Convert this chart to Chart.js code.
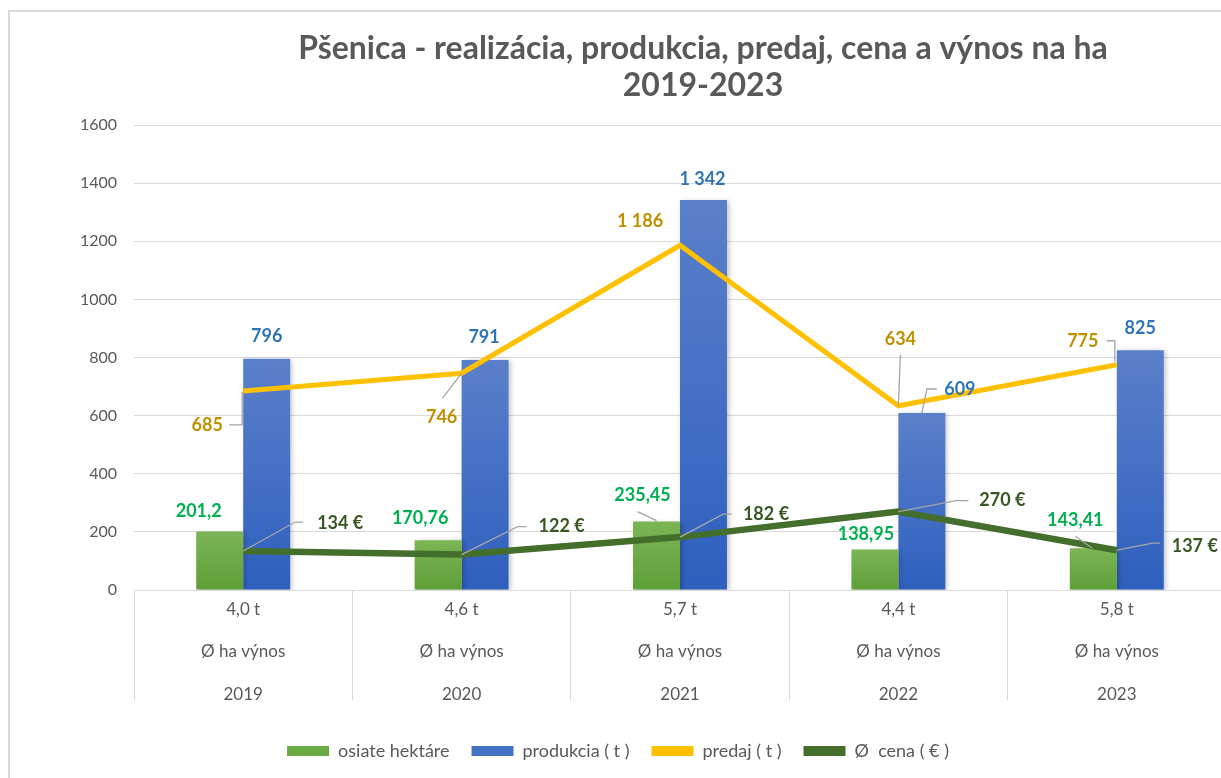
<!DOCTYPE html>
<html>
<head>
<meta charset="utf-8">
<script src="https://cdn.jsdelivr.net/npm/chart.js@4"></script>
<style>
  html, body { margin: 0; padding: 0; background: #fff; overflow: hidden; }
  .box { position: absolute; left: 8px; top: 10px; width: 1235px; height: 778px;
         border-left: 2px solid #d9d9d9; border-top: 2px solid #d9d9d9; }
</style>
</head>
<body>
<div class="box"><canvas id="chart" width="1235" height="778"></canvas></div>
<script>
// data
const years = ['2019', '2020', '2021', '2022', '2023'];
const yieldPerHa = ['4,0 t', '4,6 t', '5,7 t', '4,4 t', '5,8 t'];
const hectares = [201.2, 170.76, 235.45, 138.95, 143.41];
const production = [796, 791, 1342, 609, 825];
const sales = [685, 746, 1186, 634, 775];
const price = [134, 122, 182, 270, 137];
const yTicks = [0, 200, 400, 600, 800, 1000, 1200, 1400, 1600];

// label placement (offset of label centre from bar top / line point) and leader lines
const hectLabelPos = [[-21, -20], [-18, -22], [-14, -26], [-9, -15], [-18, -28]];
const hectLeaders = [null, null, [[0, -1], [-19, -10]], null, [[-1, 0], [-18, -12]]];
const prodLabelPos = [[0, -22], [-1, -23], [-1, -21], [38, -24], [0, -22]];
const prodLeaders = [null, null, null, [[0, 0], [5, -24], [15, -24]], null];
const salesLabelPos = [[-36, 34], [-20, 44], [-40, -24], [2, -67], [-34, -24]];
const salesLeaders = [[[-1, 1], [-1, 34], [-14, 34]], [[0, 0], [-19, 25]], null, [[0, 0], [2, -51]], [[-2, -3], [-2, -24], [-10, -24]]];
const priceLabelPos = [[97, -28], [100, -28], [86, -23], [104, -11], [78, -4]];
const priceLeaders = [[[0, 0], [52, -29], [60, -29]], [[0, 0], [56, -28], [65, -28]], [[0, 0], [43, -23], [52, -23]], [[0, 0], [58, -11], [70, -11]], [[0, 0], [36, -7], [43, -7]]];

const fmtDec = v => String(v).replace('.', ',');
const fmtThousands = v => String(v).replace(/\B(?=(\d{3})+(?!\d))/g, ' ');
const fmtEuro = v => v + ' €';

Chart.defaults.font.family = 'Lato, "Open Sans", sans-serif';
Chart.defaults.color = '#595959';

function barGradient(top, bottom) {
  return (c) => {
    const chart = c.chart;
    if (!chart.chartArea || c.raw === undefined) return bottom;
    const y = chart.scales.y;
    const g = chart.ctx.createLinearGradient(0, y.getPixelForValue(c.raw), 0, y.getPixelForValue(0));
    g.addColorStop(0, top);
    g.addColorStop(1, bottom);
    return g;
  };
}

const labelSetup = [
  { pos: hectLabelPos, leaders: hectLeaders, color: '#00b050', fmt: fmtDec },
  { pos: prodLabelPos, leaders: prodLeaders, color: '#2e75b6', fmt: fmtThousands },
  { pos: salesLabelPos, leaders: salesLeaders, color: '#bf9000', fmt: fmtThousands },
  { pos: priceLabelPos, leaders: priceLeaders, color: '#385723', fmt: fmtEuro }
];

const valueLabels = {
  id: 'valueLabels',
  afterDatasetsDraw(chart) {
    const ctx = chart.ctx;
    ctx.save();
    labelSetup.forEach((s, di) => {
      const meta = chart.getDatasetMeta(di);
      const data = chart.data.datasets[di].data;
      meta.data.forEach((el, i) => {
        const lead = s.leaders[i];
        if (lead) {
          ctx.strokeStyle = '#a6a6a6';
          ctx.lineWidth = 1.3;
          ctx.beginPath();
          lead.forEach((p, k) => {
            if (k === 0) ctx.moveTo(el.x + p[0], el.y + p[1]);
            else ctx.lineTo(el.x + p[0], el.y + p[1]);
          });
          ctx.stroke();
        }
        ctx.fillStyle = s.color;
        ctx.font = 'bold 18px Lato, "Open Sans", sans-serif';
        ctx.textAlign = 'center';
        ctx.textBaseline = 'middle';
        ctx.fillText(s.fmt(data[i]), el.x + s.pos[i][0], el.y + s.pos[i][1]);
      });
    });
    ctx.restore();
  }
};

const titleText = {
  id: 'titleText',
  afterDraw(chart) {
    const ctx = chart.ctx;
    ctx.save();
    ctx.fillStyle = '#595959';
    ctx.font = 'bold 32px Lato, "Open Sans", sans-serif';
    ctx.textAlign = 'center';
    ctx.textBaseline = 'middle';
    ctx.fillText('Pšenica - realizácia, produkcia, predaj, cena a výnos na ha', 693, 37);
    ctx.fillText('2019-2023', 693, 74);
    ctx.restore();
  }
};

// soft shadow on the right of the bars
const barShadow = {
  id: 'barShadow',
  beforeDatasetDraw(chart, args) {
    if (args.meta.type !== 'bar') return;
    const ctx = chart.ctx;
    ctx.save();
    ctx.shadowColor = 'rgba(0,0,0,0.25)';
    ctx.shadowBlur = 5;
    ctx.shadowOffsetX = 2;
    ctx.shadowOffsetY = 1;
  },
  afterDatasetDraw(chart, args) {
    if (args.meta.type !== 'bar') return;
    chart.ctx.restore();
  }
};

new Chart(document.getElementById('chart'), {
  type: 'bar',
  data: {
    labels: years.map((y, i) => [yieldPerHa[i], 'Ø ha výnos', y]),
    datasets: [
      {
        label: 'osiate hektáre',
        data: hectares,
        backgroundColor: barGradient('#7cb555', '#5e9f37'),
        legendColor: '#6aaa42',
        order: 2,
        categoryPercentage: 0.43,
        barPercentage: 1.0
      },
      {
        label: 'produkcia ( t )',
        data: production,
        backgroundColor: barGradient('#5b80ca', '#2e5fbe'),
        legendColor: '#4472c4',
        order: 3,
        categoryPercentage: 0.43,
        barPercentage: 1.0
      },
      {
        type: 'line',
        label: 'predaj ( t )',
        data: sales,
        borderColor: '#ffc000',
        legendColor: '#ffc000',
        borderWidth: 5,
        pointRadius: 0,
        tension: 0,
        order: 1
      },
      {
        type: 'line',
        label: 'Ø  cena ( € )',
        data: price,
        borderColor: '#436e2b',
        legendColor: '#436e2b',
        borderWidth: 6.5,
        pointRadius: 0,
        tension: 0,
        order: 0
      }
    ]
  },
  options: {
    responsive: false,
    animation: false,
    layout: { padding: { top: 113, right: 19, bottom: 20, left: 0 } },
    scales: {
      x: {
        grid: { offset: true, drawOnChartArea: false, drawTicks: true, tickLength: 110, color: '#d9d9d9' },
        border: { color: '#d9d9d9' },
        ticks: { font: { size: 17, lineHeight: 2.5 }, color: '#595959', padding: -112, maxRotation: 0, autoSkip: false },
        afterFit: s => { s.height = 130; }
      },
      y: {
        min: 0,
        max: 1600,
        afterBuildTicks: s => { s.ticks = yTicks.map(v => ({ value: v })); },
        grid: { color: '#d9d9d9', drawTicks: false },
        border: { display: false },
        ticks: { font: { size: 16 }, color: '#595959', padding: 17, callback: v => String(v) },
        afterFit: s => { s.width = 124; }
      }
    },
    plugins: {
      legend: {
        position: 'bottom',
        labels: {
          boxWidth: 42,
          boxHeight: 10,
          padding: 22,
          font: { size: 18 },
          color: '#595959',
          sort: (a, b) => a.datasetIndex - b.datasetIndex,
          generateLabels: chart => chart.data.datasets.map((d, i) => ({
            text: d.label,
            fillStyle: d.legendColor,
            strokeStyle: d.legendColor,
            lineWidth: 0,
            fontColor: '#595959',
            datasetIndex: i,
            hidden: false
          }))
        }
      },
      tooltip: { enabled: false }
    }
  },
  plugins: [barShadow, valueLabels, titleText]
});
</script>
</body>
</html>
